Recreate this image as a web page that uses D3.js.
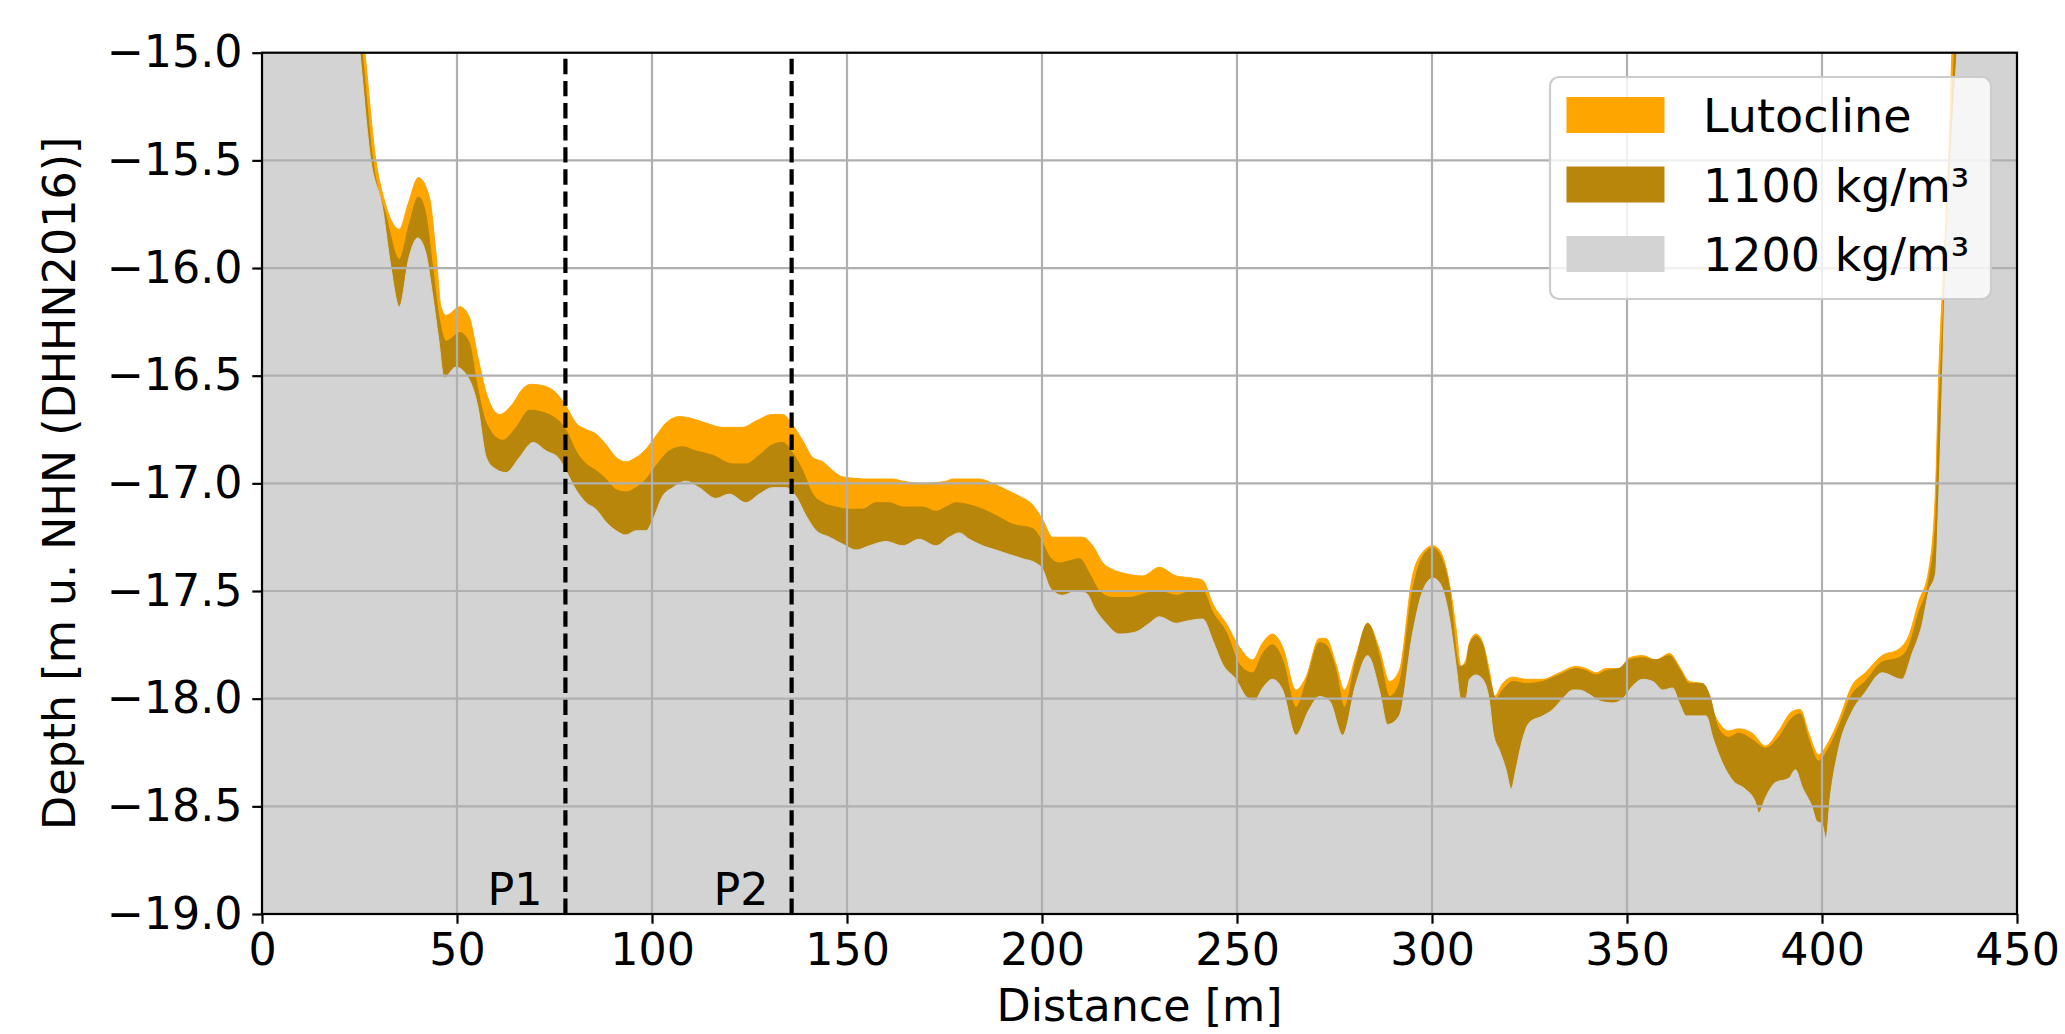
<!DOCTYPE html>
<html>

<head>
    <title>Lutocline profile</title>
    <script src="https://d3js.org/d3.v7.min.js"></script>
    <style>
        body {
            margin: 0;
            background: white;
        }

        text {
            font-family: "DejaVu Sans", sans-serif;
        }

        .tick text {
            font-size: 44.4px;
            fill: black;
        }
    </style>
</head>

<body>
    <div id="svg"></div>
    <script>
        // surfaces: [distance m, depth m]
        var lutocline = [[0, -12.0], [20, -13.9], [26.4, -15.0], [29.2, -15.5], [31.3, -15.68], [35.2, -15.82], [37.5, -15.7], [40.1, -15.58], [42.9, -15.67], [44.6, -15.93], [45.9, -16.18], [47.2, -16.22], [50.8, -16.18], [53.2, -16.23], [55.3, -16.41], [57.5, -16.58], [60.9, -16.68], [64.3, -16.63], [66.9, -16.56], [69.0, -16.54], [72.8, -16.55], [75.4, -16.58], [77.9, -16.64], [80.5, -16.72], [83.1, -16.75], [85.6, -16.77], [88.2, -16.82], [90.8, -16.88], [93.3, -16.90], [95.9, -16.88], [98.5, -16.84], [101.0, -16.78], [103.6, -16.72], [107.0, -16.69], [110.4, -16.70], [113.8, -16.72], [118.1, -16.74], [123.2, -16.74], [126.7, -16.71], [130.9, -16.68], [133.5, -16.68], [136.1, -16.73], [138.6, -16.80], [141.2, -16.88], [143.8, -16.90], [146.3, -16.94], [148.9, -16.97], [155.7, -16.98], [161.7, -16.98], [164.3, -16.99], [169.4, -17.00], [175.4, -16.99], [177.1, -16.98], [183.9, -16.98], [187.4, -17.00], [190.8, -17.03], [194.2, -17.06], [197.6, -17.10], [200.2, -17.17], [202.7, -17.25], [207.0, -17.25], [210.4, -17.25], [213.0, -17.29], [215.6, -17.37], [218.1, -17.40], [221.5, -17.42], [225.8, -17.43], [230.1, -17.39], [234.4, -17.43], [238.6, -17.44], [241.2, -17.45], [243.8, -17.56], [247.2, -17.65], [250.6, -17.76], [254.0, -17.82], [256.6, -17.74], [259.1, -17.70], [261.7, -17.76], [265.1, -17.96], [267.7, -17.90], [271.1, -17.72], [272.8, -17.72], [275.4, -17.84], [277.5, -17.96], [280.5, -17.80], [283.5, -17.65], [286.5, -17.77], [289.1, -17.92], [291.6, -17.87], [295.0, -17.43], [297.6, -17.32], [300.2, -17.29], [301.9, -17.31], [304.4, -17.46], [306.2, -17.68], [307.4, -17.85], [308.7, -17.82], [309.6, -17.74], [311.3, -17.70], [313.0, -17.74], [314.7, -17.87], [316.0, -17.99], [318.1, -17.93], [320.7, -17.90], [324.1, -17.91], [328.4, -17.91], [332.6, -17.88], [336.9, -17.85], [339.5, -17.86], [342.1, -17.88], [344.6, -17.86], [348.0, -17.86], [350.6, -17.81], [354.0, -17.80], [357.4, -17.82], [360.9, -17.79], [363.4, -17.85], [366.0, -17.92], [369.4, -17.93], [371.8, -18.05], [373.5, -18.11], [376.1, -18.15], [378.6, -18.14], [382.1, -18.16], [385.5, -18.22], [388.9, -18.15], [392.3, -18.06], [394.4, -18.05], [396.6, -18.16], [399.1, -18.26], [401.7, -18.20], [404.3, -18.10], [407.7, -17.94], [411.1, -17.88], [415.4, -17.80], [419.7, -17.77], [422.2, -17.71], [424.8, -17.55], [427.4, -17.40], [429.1, -17.03], [429.9, -16.51], [431.2, -15.99], [432.5, -15.47], [433.3, -15.0], [440, -13.0], [450, -12.0]];

        var rho1100 = [[0, -12.0], [20, -14.0], [25.7, -15.0], [28.4, -15.5], [31.7, -15.75], [35.2, -15.96], [37.7, -15.8], [40.1, -15.67], [42.0, -15.75], [43.7, -15.99], [45.5, -16.24], [47.2, -16.34], [50.8, -16.30], [53.2, -16.35], [54.9, -16.52], [57.5, -16.72], [61.7, -16.80], [65.2, -16.74], [68.6, -16.66], [72.0, -16.67], [75.4, -16.70], [77.9, -16.75], [80.5, -16.85], [83.1, -16.91], [85.6, -16.94], [88.2, -16.98], [90.8, -17.03], [93.3, -17.04], [95.9, -17.02], [98.5, -16.98], [101.0, -16.92], [104.4, -16.85], [107.9, -16.83], [111.3, -16.85], [115.6, -16.87], [120.7, -16.91], [124.1, -16.91], [127.5, -16.87], [130.9, -16.82], [133.5, -16.81], [136.1, -16.86], [138.6, -16.94], [141.2, -17.05], [143.8, -17.09], [147.2, -17.11], [150.6, -17.12], [154.0, -17.12], [157.4, -17.09], [160.9, -17.09], [164.3, -17.11], [169.4, -17.11], [172.8, -17.13], [175.4, -17.11], [177.9, -17.09], [181.4, -17.10], [184.8, -17.12], [188.2, -17.15], [192.5, -17.19], [197.6, -17.21], [199.7, -17.26], [201.9, -17.34], [204.4, -17.37], [207.0, -17.36], [209.6, -17.35], [212.2, -17.42], [214.7, -17.50], [218.1, -17.53], [222.4, -17.53], [226.7, -17.51], [230.1, -17.50], [234.4, -17.52], [238.6, -17.50], [241.2, -17.50], [243.8, -17.60], [247.2, -17.69], [250.6, -17.84], [254.0, -17.88], [256.6, -17.79], [259.1, -17.75], [261.7, -17.82], [265.1, -18.04], [268.1, -17.90], [271.1, -17.74], [272.8, -17.75], [275.4, -17.87], [277.5, -18.04], [280.5, -17.82], [283.5, -17.65], [286.5, -17.80], [289.1, -17.99], [291.6, -17.93], [295.0, -17.50], [297.6, -17.34], [300.2, -17.30], [302.0, -17.33], [304.4, -17.48], [307.0, -17.85], [308.7, -17.84], [309.6, -17.75], [311.3, -17.71], [313.0, -17.75], [315.1, -17.93], [316.4, -18.00], [318.1, -17.96], [320.7, -17.92], [324.1, -17.93], [328.4, -17.92], [332.6, -17.89], [336.9, -17.86], [339.5, -17.87], [342.1, -17.89], [344.6, -17.87], [348.0, -17.86], [350.6, -17.82], [354.0, -17.81], [357.4, -17.82], [360.9, -17.80], [363.4, -17.86], [366.0, -17.93], [369.4, -17.93], [371.1, -17.98], [373.5, -18.14], [376.1, -18.18], [378.6, -18.16], [382.1, -18.19], [385.5, -18.23], [388.9, -18.18], [392.3, -18.09], [394.4, -18.07], [396.6, -18.19], [399.1, -18.29], [401.7, -18.23], [404.3, -18.13], [407.7, -17.98], [411.1, -17.92], [415.4, -17.83], [419.7, -17.81], [422.2, -17.76], [424.8, -17.60], [427.4, -17.45], [429.1, -17.19], [429.9, -16.72], [431.2, -16.17], [432.5, -15.63], [433.8, -15.05], [440, -13.2], [450, -12.0]];

        var rho1200 = [[0, -12.0], [20, -14.1], [25.1, -15.0], [27.9, -15.5], [30.9, -15.72], [33.0, -15.99], [35.2, -16.18], [37.7, -15.95], [39.9, -15.86], [42.0, -15.93], [43.7, -16.12], [45.3, -16.33], [46.7, -16.51], [49.7, -16.46], [53.2, -16.52], [55.3, -16.64], [57.5, -16.88], [59.6, -16.93], [62.6, -16.95], [66.0, -16.88], [69.5, -16.81], [72.9, -16.85], [75.9, -16.88], [77.9, -16.94], [80.5, -17.03], [83.1, -17.09], [85.6, -17.12], [88.2, -17.18], [90.8, -17.22], [93.3, -17.24], [95.9, -17.22], [98.5, -17.22], [100.2, -17.17], [102.7, -17.06], [105.3, -17.02], [108.7, -16.99], [112.1, -17.02], [116.4, -17.07], [119.8, -17.05], [124.1, -17.09], [127.5, -17.05], [130.9, -17.02], [134.4, -17.02], [136.9, -17.06], [139.5, -17.15], [142.1, -17.22], [145.5, -17.25], [149.7, -17.29], [152.3, -17.31], [155.7, -17.29], [160.0, -17.27], [164.3, -17.29], [168.5, -17.26], [172.8, -17.29], [176.2, -17.25], [178.8, -17.23], [181.4, -17.26], [184.8, -17.29], [188.2, -17.31], [191.6, -17.33], [195.0, -17.35], [198.4, -17.37], [200.2, -17.40], [201.9, -17.48], [203.6, -17.51], [205.3, -17.52], [208.7, -17.50], [211.3, -17.51], [213.8, -17.59], [216.4, -17.65], [219.8, -17.70], [224.1, -17.69], [227.5, -17.65], [230.1, -17.62], [234.4, -17.65], [237.0, -17.64], [241.2, -17.63], [243.8, -17.73], [246.3, -17.84], [249.7, -17.91], [252.3, -17.99], [254.4, -18.01], [256.6, -17.95], [259.1, -17.91], [261.7, -17.96], [265.1, -18.17], [268.5, -18.05], [271.1, -17.99], [273.7, -18.01], [277.1, -18.17], [280.5, -17.93], [283.5, -17.80], [286.5, -17.96], [288.6, -18.12], [291.6, -18.08], [295.0, -17.70], [297.6, -17.50], [300.2, -17.44], [301.9, -17.46], [304.4, -17.62], [306.2, -17.85], [307.4, -18.00], [308.7, -18.00], [309.6, -17.91], [311.3, -17.89], [313.0, -17.91], [314.7, -18.01], [315.7, -18.16], [317.3, -18.24], [319.0, -18.33], [320.3, -18.42], [321.5, -18.33], [323.2, -18.19], [325.0, -18.11], [328.4, -18.08], [331.0, -18.05], [333.5, -18.00], [336.1, -17.96], [337.8, -17.96], [340.3, -17.98], [342.9, -18.01], [346.3, -18.02], [348.9, -18.00], [351.5, -17.94], [354.0, -17.91], [356.6, -17.92], [359.2, -17.96], [361.7, -17.95], [363.4, -18.02], [365.2, -18.08], [367.7, -18.08], [370.3, -18.08], [372.0, -18.18], [374.5, -18.30], [377.1, -18.38], [380.3, -18.42], [382.9, -18.48], [383.8, -18.53], [385.5, -18.46], [388.0, -18.39], [391.5, -18.37], [393.2, -18.33], [394.9, -18.41], [397.4, -18.50], [398.7, -18.57], [400.0, -18.58], [401.0, -18.65], [402.1, -18.46], [404.3, -18.23], [407.7, -18.06], [411.1, -17.97], [415.4, -17.88], [420.5, -17.91], [423.1, -17.79], [425.6, -17.66], [427.4, -17.50], [429.1, -17.42], [429.9, -17.08], [430.8, -16.56], [431.6, -16.04], [432.9, -15.52], [434.6, -15.0], [440, -13.5], [450, -12.0]];

        var markers = [{ name: "P1", dist: 77.8 }, { name: "P2", dist: 135.8 }];
        var xTicks = [0, 50, 100, 150, 200, 250, 300, 350, 400, 450];
        var yTicks = [-19.0, -18.5, -18.0, -17.5, -17.0, -16.5, -16.0, -15.5, -15.0];

        var layers = [
            { label: "Lutocline", color: "#FFA500", data: lutocline },
            { label: "1100 kg/m³", color: "#B8860B", data: rho1100 },
            { label: "1200 kg/m³", color: "#D3D3D3", data: rho1200 }
        ];

        var W = 2065, H = 1034;
        var margin = { top: 52.7, right: 48, bottom: 120, left: 262 },
            width = W - margin.left - margin.right,
            height = H - margin.top - margin.bottom;

        var svg = d3.select("#svg")
            .append("svg")
            .attr("width", W)
            .attr("height", H)
            .append("g")
            .attr("transform", "translate(" + margin.left + "," + margin.top + ")");

        var x = d3.scaleLinear().domain([0, 450]).range([0, width]);
        var y = d3.scaleLinear().domain([-19, -15]).range([height, 0]);

        svg.append("clipPath").attr("id", "clip")
            .append("rect").attr("width", width).attr("height", height);

        var plot = svg.append("g").attr("clip-path", "url(#clip)");

        // stacked fills: each one reaches down to the axis bottom
        var area = d3.area()
            .curve(d3.curveMonotoneX)
            .x(function (d) { return x(d[0]); })
            .y0(height)
            .y1(function (d) { return y(d[1]); });

        plot.selectAll("path.layer")
            .data(layers)
            .enter()
            .append("path")
            .attr("class", "layer")
            .attr("d", function (d) { return area(d.data); })
            .style("fill", function (d) { return d.color; })
            .style("stroke", function (d) { return d.color; })
            .style("stroke-width", 1);

        // grid above the fills
        plot.selectAll("line.vgrid").data(xTicks).enter()
            .append("line").attr("class", "vgrid")
            .attr("x1", function (d) { return x(d); }).attr("x2", function (d) { return x(d); })
            .attr("y1", 0).attr("y2", height)
            .style("stroke", "#b0b0b0").style("stroke-width", 2.2);
        plot.selectAll("line.hgrid").data(yTicks).enter()
            .append("line").attr("class", "hgrid")
            .attr("y1", function (d) { return y(d); }).attr("y2", function (d) { return y(d); })
            .attr("x1", 0).attr("x2", width)
            .style("stroke", "#b0b0b0").style("stroke-width", 2.2);

        // profile positions
        svg.selectAll("line.marker").data(markers).enter()
            .append("line").attr("class", "marker")
            .attr("x1", function (d) { return x(d.dist); }).attr("x2", function (d) { return x(d.dist); })
            .attr("y1", y(-19)).attr("y2", y(-15))
            .style("stroke", "black").style("stroke-width", 4.2)
            .style("stroke-dasharray", "15.4,6.7");
        svg.selectAll("text.marker").data(markers).enter()
            .append("text").attr("class", "marker")
            .attr("x", function (d) { return x(d.dist) - 23; })
            .attr("y", y(-18.96))
            .attr("text-anchor", "end")
            .style("font-size", "44.4px")
            .text(function (d) { return d.name; });

        // axes
        var xAxis = svg.append("g")
            .attr("transform", "translate(0," + height + ")")
            .call(d3.axisBottom(x).tickValues(xTicks).tickFormat(d3.format("d"))
                .tickSize(9.7).tickPadding(9.7).tickSizeOuter(0));
        var yAxis = svg.append("g")
            .call(d3.axisLeft(y).tickValues(yTicks).tickFormat(d3.format(".1f"))
                .tickSize(9.7).tickPadding(9.7).tickSizeOuter(0));
        [xAxis, yAxis].forEach(function (g) {
            g.select(".domain").remove();
            g.selectAll(".tick line").style("stroke", "black").style("stroke-width", 2.2);
            g.selectAll(".tick text").style("font-family", "DejaVu Sans").style("font-size", "44.4px");
        });

        svg.append("rect")
            .attr("width", width).attr("height", height)
            .style("fill", "none").style("stroke", "black").style("stroke-width", 2.2);

        svg.append("text")
            .attr("x", width / 2).attr("y", height + 107)
            .attr("text-anchor", "middle")
            .style("font-size", "44.4px")
            .text("Distance [m]");

        svg.append("text")
            .attr("transform", "translate(" + (75 - margin.left) + "," + height / 2 + ") rotate(-90)")
            .attr("text-anchor", "middle")
            .style("font-size", "44.4px")
            .text("Depth [m u. NHN (DHHN2016)]");

        // legend
        var legend = svg.append("g").attr("transform", "translate(" + (1550 - margin.left) + "," + (77 - margin.top) + ")");
        legend.append("rect")
            .attr("width", 441).attr("height", 222).attr("rx", 9)
            .style("fill", "white").style("fill-opacity", 0.8)
            .style("stroke", "#cccccc").style("stroke-width", 2.2);
        var item = legend.selectAll("g.item").data(layers).enter()
            .append("g").attr("class", "item")
            .attr("transform", function (d, i) { return "translate(16.5," + (20 + i * 69.5) + ")"; });
        item.append("rect")
            .attr("width", 98).attr("height", 36)
            .style("fill", function (d) { return d.color; });
        item.append("text")
            .attr("x", 136.5).attr("y", 35)
            .style("font-size", "46px")
            .text(function (d) { return d.label; });
    </script>
</body>

</html>
